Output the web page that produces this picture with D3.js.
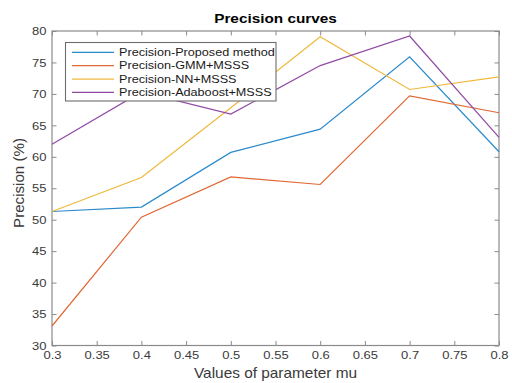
<!DOCTYPE html>
<html>
<head>
<meta charset="utf-8">
<script src="https://cdn.jsdelivr.net/npm/d3@7"></script>
<style>
  html, body { margin: 0; padding: 0; background: #fff; }
  svg { display: block; }
  text { font-family: "Liberation Sans", Arial, Helvetica, sans-serif; }
</style>
</head>
<body>
<svg id="chart" width="512" height="383"></svg>
<script>
const muValues = [0.3, 0.4, 0.5, 0.6, 0.7, 0.8];
const seriesNames = ["Precision-Proposed method", "Precision-GMM+MSSS", "Precision-NN+MSSS", "Precision-Adaboost+MSSS"];
const proposed = [51.3, 52.0, 60.7, 64.4, 75.9, 60.8];
const gmm      = [33.1, 50.4, 56.8, 55.6, 69.7, 67.0];
const nn       = [51.3, 56.7, 67.8, 79.1, 70.7, 72.7];
const adaboost = [62.0, 70.3, 66.8, 74.5, 79.2, 63.1];
const seriesColors = ["#2a8acc", "#e06835", "#efb83c", "#9049a4"];
const xTicks = [0.3, 0.35, 0.4, 0.45, 0.5, 0.55, 0.6, 0.65, 0.7, 0.75, 0.8];
const xTickLabels = ["0.3", "0.35", "0.4", "0.45", "0.5", "0.55", "0.6", "0.65", "0.7", "0.75", "0.8"];
const yTicks = [30, 35, 40, 45, 50, 55, 60, 65, 70, 75, 80];
const yTickLabels = ["30", "35", "40", "45", "50", "55", "60", "65", "70", "75", "80"];
const titleText = "Precision curves";
const xLabel = "Values of parameter mu";
const yLabel = "Precision (%)";

const allSeries = [proposed, gmm, nn, adaboost];

const svg = d3.select("#chart");
const L = 52, R = 499, T = 31, B = 345.5;
const x = d3.scaleLinear().domain([0.3, 0.8]).range([L, R]);
const y = d3.scaleLinear().domain([30, 80]).range([B, T]);

const axisColor = "#8a8a8a";
const labelColor = "#3a3a3a";
const sx = 1.13;

// Bottom axis
const gx = svg.append("g").attr("transform", `translate(0,${B})`)
  .call(d3.axisBottom(x).tickValues(xTicks).tickFormat((d, i) => xTickLabels[i])
    .tickSizeInner(-4.5).tickSizeOuter(0).tickPadding(5));
gx.select(".domain").remove();
gx.selectAll("line").attr("stroke", axisColor);
gx.selectAll("text").attr("fill", labelColor).attr("font-size", 11.5)
  .attr("dy", "0.71em").attr("transform", `scale(${sx},1)`);

// Top axis (ticks only)
const gt = svg.append("g").attr("transform", `translate(0,${T})`)
  .call(d3.axisTop(x).tickValues(xTicks).tickFormat("").tickSizeInner(-4.5).tickSizeOuter(0));
gt.select(".domain").remove();
gt.selectAll("line").attr("stroke", axisColor);

// Left axis
const gy = svg.append("g").attr("transform", `translate(${L},0)`)
  .call(d3.axisLeft(y).tickValues(yTicks).tickFormat((d, i) => yTickLabels[i])
    .tickSizeInner(-4.5).tickSizeOuter(0).tickPadding(5));
gy.select(".domain").remove();
gy.selectAll("line").attr("stroke", axisColor);
gy.selectAll("text").attr("fill", labelColor).attr("font-size", 11.5)
  .attr("x", -5.5 / sx).attr("transform", `scale(${sx},1)`);

// Right axis (ticks only)
const gr = svg.append("g").attr("transform", `translate(${R},0)`)
  .call(d3.axisRight(y).tickValues(yTicks).tickFormat("").tickSizeInner(-4.5).tickSizeOuter(0));
gr.select(".domain").remove();
gr.selectAll("line").attr("stroke", axisColor);

// Box
svg.append("rect").attr("x", L).attr("y", T).attr("width", R - L).attr("height", B - T)
  .attr("fill", "none").attr("stroke", axisColor).attr("stroke-width", 1.2);

// Lines
const line = d3.line().x((d, i) => x(muValues[i])).y(d => y(d));
allSeries.forEach((s, k) => {
  svg.append("path").datum(s).attr("d", line)
    .attr("fill", "none").attr("stroke", seriesColors[k]).attr("stroke-width", 1.2)
    .attr("stroke-linejoin", "miter");
});

// Legend
const lg = svg.append("g");
lg.append("rect").attr("x", 65.5).attr("y", 42.5).attr("width", 210.5).attr("height", 58.5)
  .attr("fill", "#fff").attr("stroke", "#6e6e6e").attr("stroke-width", 1.1);
const rowY = [52.3, 65.7, 79.1, 92.4];
seriesNames.forEach((name, k) => {
  lg.append("line").attr("x1", 72).attr("x2", 114).attr("y1", rowY[k]).attr("y2", rowY[k])
    .attr("stroke", seriesColors[k]).attr("stroke-width", 1.2);
  lg.append("text").attr("transform", `translate(119,${rowY[k] + 3.6}) scale(1.24,1)`)
    .attr("font-size", 10.2).attr("fill", "#1a1a1a").text(name);
});

// Title
svg.append("text").attr("transform", `translate(${(L + R) / 2},23.3) scale(1.18,1)`)
  .attr("text-anchor", "middle").attr("font-size", 13).attr("font-weight", "bold")
  .attr("fill", "#000").text(titleText);

// X label
svg.append("text").attr("transform", `translate(${(L + R) / 2},378.3) scale(1.1,1)`)
  .attr("text-anchor", "middle").attr("font-size", 14).attr("fill", labelColor).text(xLabel);

// Y label
svg.append("text").attr("transform", `translate(23.5,183) rotate(-90) scale(1.08,1)`)
  .attr("text-anchor", "middle").attr("font-size", 14).attr("fill", labelColor).text(yLabel);
</script>
</body>
</html>
